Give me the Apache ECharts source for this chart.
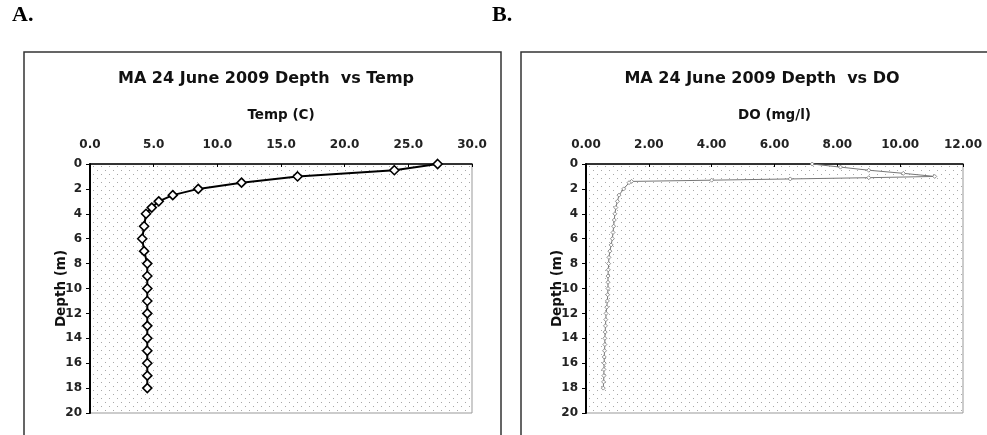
<!DOCTYPE html>
<html>
<head>
<meta charset="utf-8">
<script src="https://cdn.jsdelivr.net/npm/echarts@6/dist/echarts.min.js"></script>
<style>html,body{margin:0;padding:0;background:#fff}#c{width:987px;height:435px}</style>
</head>
<body>
<div id="c"></div>
<script>
// Panel A: temperature profile
const tempDepth = [0, 0.5, 1, 1.5, 2, 2.5, 3, 3.5, 4, 5, 6, 7, 8, 9, 10, 11, 12, 13, 14, 15, 16, 17, 18];
const tempValues = [27.3, 23.9, 16.3, 11.9, 8.5, 6.5, 5.4, 4.85, 4.4, 4.25, 4.1, 4.25, 4.5, 4.5, 4.5, 4.5, 4.5, 4.5, 4.5, 4.5, 4.5, 4.5, 4.5];
// Panel B: dissolved oxygen profile
const doDepth = [0, 0.25, 0.5, 0.75, 1.0, 1.1, 1.2, 1.3, 1.4, 1.5, 2, 2.5, 3, 3.5, 4, 4.5, 5, 5.5, 6, 6.5, 7, 7.5, 8, 8.5, 9, 9.5, 10, 10.5, 11, 11.5, 12, 12.5, 13, 13.5, 14, 14.5, 15, 15.5, 16, 16.5, 17, 17.5, 18];
const doValues = [7.2, 8.1, 9.0, 10.1, 11.1, 9.0, 6.5, 4.0, 1.45, 1.37, 1.2, 1.05, 1.0, 0.95, 0.92, 0.9, 0.88, 0.86, 0.84, 0.8, 0.76, 0.73, 0.72, 0.71, 0.7, 0.7, 0.7, 0.69, 0.68, 0.66, 0.64, 0.63, 0.62, 0.61, 0.6, 0.6, 0.59, 0.58, 0.58, 0.57, 0.57, 0.56, 0.55];
// Axis ticks
const tempTicks = {min: 0, max: 30, interval: 5};
const doTicks = {min: 0, max: 12, interval: 2};
const depthTicks = {min: 0, max: 20, interval: 2};

const FONT = 'DejaVu Sans';

// stipple pattern for plot backgrounds
const pc = document.createElement('canvas');
pc.width = 8; pc.height = 8;
const pctx = pc.getContext('2d');
pctx.fillStyle = '#fff'; pctx.fillRect(0, 0, 8, 8);
pctx.fillStyle = '#a8a8a8';
pctx.fillRect(1, 2, 1, 1);
pctx.fillRect(5, 6, 1, 1);

const chart = echarts.init(document.getElementById('c'), null, {renderer: 'canvas'});

function xAxisCfg(idx, name, ticks, dec) {
  return {
    type: 'value', gridIndex: idx, position: 'top',
    min: ticks.min, max: ticks.max, interval: ticks.interval,
    name: name, nameLocation: 'middle', nameGap: 42,
    nameTextStyle: {fontFamily: FONT, fontWeight: 'bold', fontSize: 13.5, color: '#111'},
    axisLine: {show: true, lineStyle: {color: '#000', width: 1.5}},
    axisTick: {show: true, inside: true, length: 3, lineStyle: {color: '#000'}},
    axisLabel: {fontFamily: FONT, fontWeight: 'bold', fontSize: 12, color: '#222', margin: 13, formatter: v => v.toFixed(dec)},
    splitLine: {show: false}
  };
}
function yAxisCfg(idx) {
  return {
    type: 'value', gridIndex: idx, inverse: true,
    min: depthTicks.min, max: depthTicks.max, interval: depthTicks.interval,
    name: 'Depth (m)', nameLocation: 'middle', nameGap: 22, nameMoveOverlap: false,
    nameTextStyle: {fontFamily: FONT, fontWeight: 'bold', fontSize: 13.5, color: '#111'},
    axisLine: {show: true, onZero: false, lineStyle: {color: '#000', width: 2}},
    axisTick: {show: true, inside: false, length: 4, lineStyle: {color: '#000'}},
    axisLabel: {fontFamily: FONT, fontWeight: 'bold', fontSize: 12, color: '#222', margin: 8},
    splitLine: {show: false}
  };
}

const option = {
  animation: false,
  backgroundColor: '#fff',
  title: [
    {text: 'MA 24 June 2009 Depth  vs Temp', left: 261, top: 66, textAlign: 'center',
     textStyle: {fontFamily: FONT, fontWeight: 'bold', fontSize: 16, color: '#111'}},
    {text: 'MA 24 June 2009 Depth  vs DO', left: 757, top: 66, textAlign: 'center',
     textStyle: {fontFamily: FONT, fontWeight: 'bold', fontSize: 16, color: '#111'}}
  ],
  grid: [
    {left: 90, right: 515, top: 164, bottom: 22, show: true,
     backgroundColor: {image: pc, repeat: 'repeat'}, borderColor: '#999', borderWidth: 1},
    {left: 586, right: 24, top: 164, bottom: 22, show: true,
     backgroundColor: {image: pc, repeat: 'repeat'}, borderColor: '#999', borderWidth: 1}
  ],
  xAxis: [xAxisCfg(0, 'Temp (C)', tempTicks, 1), xAxisCfg(1, 'DO (mg/l)', doTicks, 2)],
  yAxis: [yAxisCfg(0), yAxisCfg(1)],
  series: [
    {type: 'line', xAxisIndex: 0, yAxisIndex: 0,
     data: tempValues.map((v, i) => [v, tempDepth[i]]),
     lineStyle: {color: '#000', width: 2},
     symbol: 'diamond', symbolSize: 9,
     itemStyle: {color: '#fff', borderColor: '#000', borderWidth: 1.6}},
    {type: 'line', xAxisIndex: 1, yAxisIndex: 1,
     data: doValues.map((v, i) => [v, doDepth[i]]),
     lineStyle: {color: '#777', width: 1},
     symbol: 'diamond', symbolSize: 4,
     itemStyle: {color: '#fff', borderColor: '#777', borderWidth: 0.8}}
  ],
  graphic: [
    {type: 'text', left: 12, top: 4, style: {text: 'A.', font: 'bold 22px "Liberation Serif"', fill: '#000'}},
    {type: 'text', left: 492, top: 4, style: {text: 'B.', font: 'bold 22px "Liberation Serif"', fill: '#000'}},
    {type: 'rect', shape: {x: 24, y: 52, width: 477, height: 420}, style: {fill: 'none', stroke: '#333', lineWidth: 1.5}, z: -1},
    {type: 'rect', shape: {x: 521, y: 52, width: 480, height: 420}, style: {fill: 'none', stroke: '#333', lineWidth: 1.5}, z: -1}
  ]
};
chart.setOption(option);
</script>
</body>
</html>
